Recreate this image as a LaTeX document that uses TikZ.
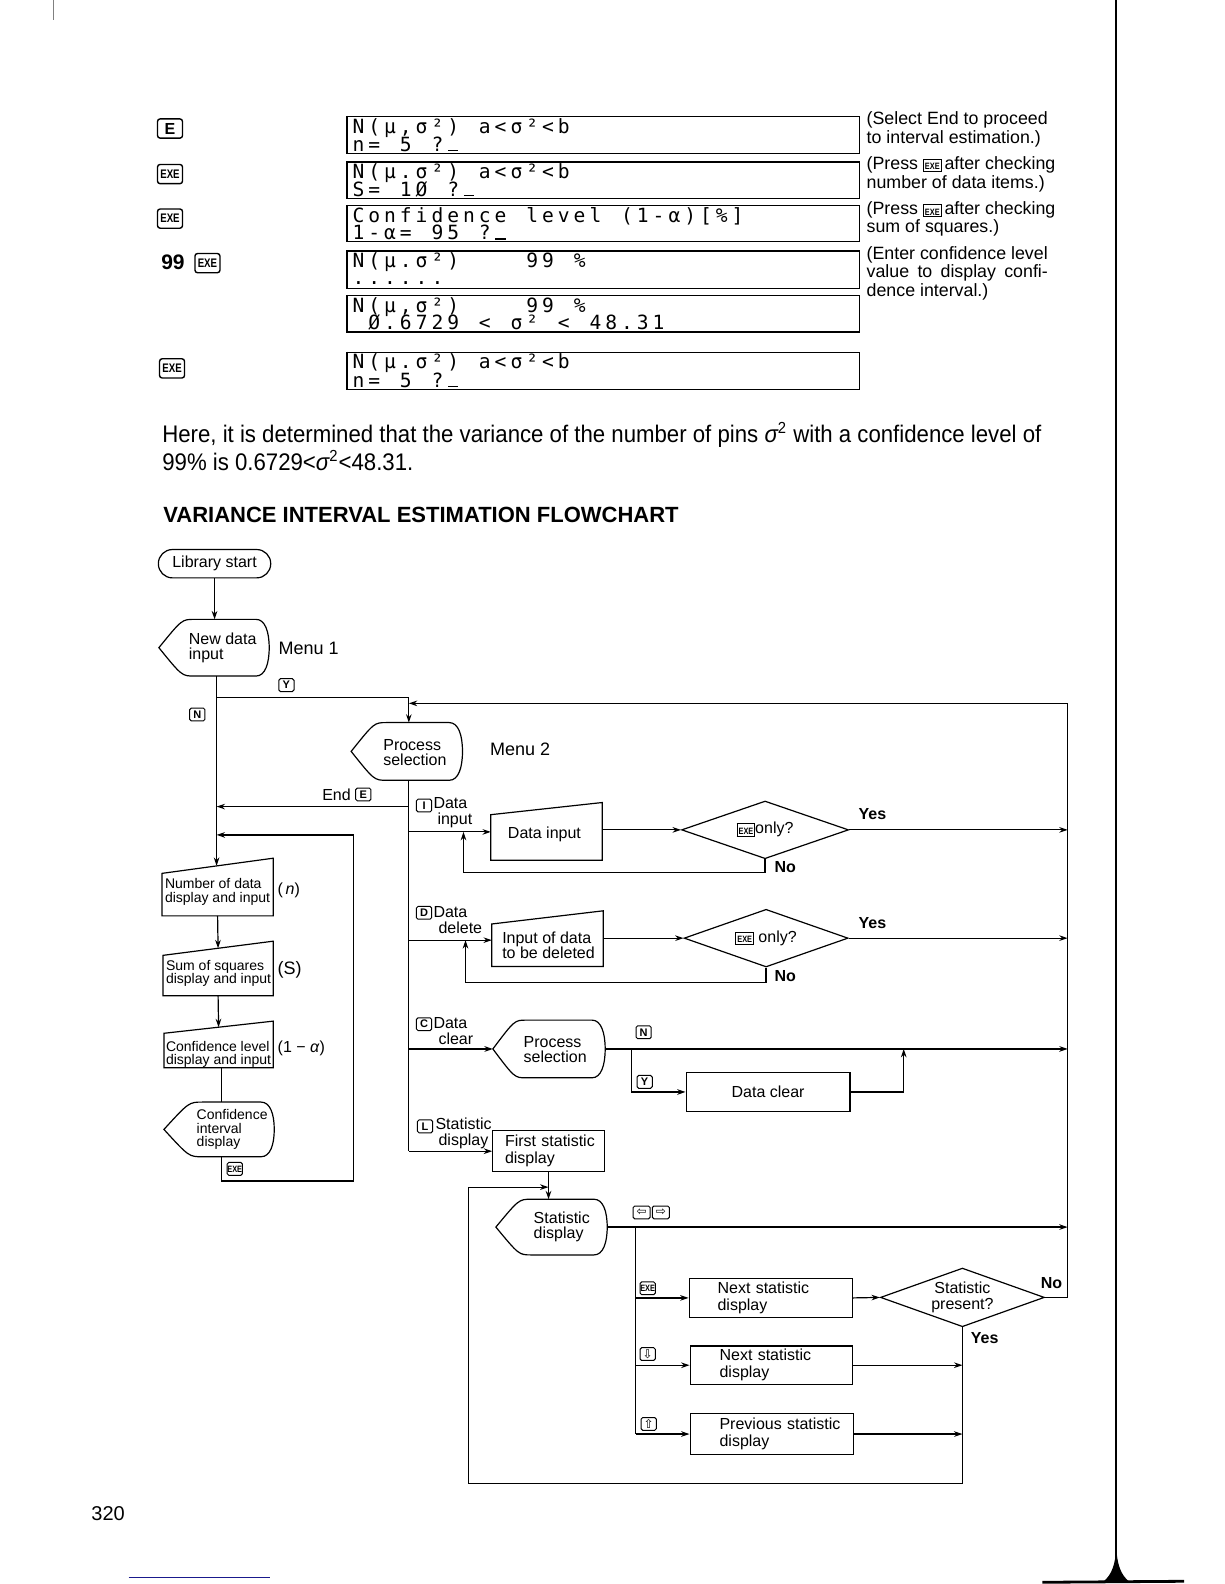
\documentclass[tikz,border=0pt]{standalone}
\usepackage{fontspec}
\usepackage{graphicx}
\setmainfont{Liberation Sans}
\newfontfamily\lcd{DejaVu Sans Mono}
\newfontfamily\dvs{DejaVu Sans}
\newfontfamily\bodyfont{Liberation Sans}[FakeStretch=0.925]
\usetikzlibrary{arrows.meta,shapes.geometric,calc}
\definecolor{scanblue}{RGB}{25,25,140}

\newcommand\exe{{\fontsize{4.6}{4.6}\selectfont\bfseries\scalebox{0.8}[1]{EXE}}}
\newcommand\bigexe{{\fontsize{6.2}{6.2}\selectfont\bfseries\scalebox{0.78}[1]{EXE}}}
\newcommand\arrk[1]{{\dvs\mdseries\fontsize{6}{6}\selectfont #1}}
\newcommand\ikey[1]{\raisebox{-0.3pt}{\setlength\fboxsep{0.5pt}\setlength\fboxrule{0.45pt}\fbox{\rule{0pt}{4.6pt}#1}}}
\newcommand\cur{\rule{5.2pt}{0.7pt}}

% LCD line: every character in a cell of fixed width
\newcommand\lcdend{\lcdend}
\newcommand\lcdline[1]{\lcdloop#1\lcdend}
\def\lcdloop#1{\ifx#1\lcdend\else\makebox[7.9pt][c]{#1}\expandafter\lcdloop\fi}

% display (curved) shape: name, xtip, xeast, ytop, ybot, tiplength
\newcommand\dispshape[6]{%
  \pgfmathsetmacro\dsym{(#4+#5)/2}%
  \pgfmathsetmacro\dsa{#2+0.65*#6}%
  \pgfmathsetmacro\dsb{#2+#6}%
  \pgfmathsetmacro\dsc{#3-13}%
  \pgfmathsetmacro\dsd{#3-4}%
  \pgfmathsetmacro\dse{#4+0.22*(#5-#4)}%
  \pgfmathsetmacro\dsf{#5-0.22*(#5-#4)}%
  \draw[ln] (#2,\dsym) .. controls (\dsa,#4) .. (\dsb,#4) -- (\dsc,#4) .. controls (\dsd,#4) and (#3,\dse) .. (#3,\dsym) .. controls (#3,\dsf) and (\dsd,#5) .. (\dsc,#5) -- (\dsb,#5) .. controls (\dsa,#5) .. (#2,\dsym) -- cycle;
  \coordinate (#1-w) at (#2,\dsym);
  \coordinate (#1-e) at (#3,\dsym);
  \coordinate (#1-n) at (\dsb,#4);
  \coordinate (#1-s) at (\dsb,#5);
}
% manual input shape: name, x0, x1, ytopleft, ytopright, ybot
\newcommand\maninput[6]{%
  \pgfmathsetmacro\miym{(#4+#5)/2}%
  \pgfmathsetmacro\mixm{(#2+#3)/2}%
  \pgfmathsetmacro\miyl{(#4+#6)/2}%
  \pgfmathsetmacro\miyr{(#5+#6)/2}%
  \draw[ln] (#2,#6) -- (#2,#4) -- (#3,#5) -- (#3,#6) -- cycle;
  \coordinate (#1-n) at (\mixm,\miym);
  \coordinate (#1-s) at (\mixm,#6);
  \coordinate (#1-w) at (#2,\miyl);
  \coordinate (#1-e) at (#3,\miyr);
}

\begin{document}
\begin{tikzpicture}[x=0.506pt,y=-0.506pt,
  ln/.style={line width=0.6pt},
  arr/.style={ln,-{Stealth[length=4.2pt,width=2.8pt]}},
  wh/.style 2 args={minimum width=#1*0.506pt,minimum height=#2*0.506pt},
  t8/.style={font=\fontsize{8}{7.6}\selectfont,inner sep=0pt,align=center},
  t8l/.style={t8,align=left},
  t7/.style={font=\fontsize{7}{6.8}\selectfont,inner sep=0pt,align=left},
  lbl/.style={font=\fontsize{8}{8.1}\selectfont,inner sep=0pt,align=left,anchor=west},
  yn/.style={font=\bfseries\fontsize{8}{8}\selectfont,inner sep=0pt},
  fkey/.style={draw,line width=0.5pt,rounded corners=0.8pt,inner sep=0pt,minimum width=7.6pt,minimum height=6.4pt,font=\bfseries\fontsize{5.5}{5.5}\selectfont},
  bkey/.style={draw,line width=0.7pt,rounded corners=1.3pt,inner sep=0pt,minimum width=12.5pt,minimum height=9.6pt,font=\bfseries\fontsize{8}{8}\selectfont},
  lcdbox/.style={draw,ln,wh={506}{37},inner sep=0pt},
  lcdt/.style={font=\lcd\fontsize{9.8}{9.8}\selectfont,inner sep=0pt,anchor=base west},
  note/.style={font=\fontsize{8.9}{9}\selectfont,inner sep=0pt,anchor=base west},
  rbox/.style n args={4}{draw,ln,minimum width=#1,minimum height=#2,inner xsep=#3,inner ysep=0pt,text width=#4,align=left,font=\fontsize{8}{8.4}\selectfont},
  dia/.style={diamond,draw,ln,aspect=2.9,inner sep=0pt,t8}
]
\useasboundingbox (0,0) rectangle (1209.5,1565.2);

% ---------- page marks ----------
\draw[line width=1pt] (1103,0) -- (1103,1552);
\fill (1090,1563) .. controls (1099,1556) and (1102,1545) .. (1103,1530) .. controls (1104,1545) and (1107,1556) .. (1116,1563) -- cycle;
\draw[line width=1.4pt] (1030,1563.5) -- (1170,1562.5);
\draw[line width=0.6pt,scanblue] (127,1559) -- (267,1559);
\draw[line width=0.4pt,gray] (53,0) -- (53,20);

% ---------- key sequence ----------
\node[bkey] (kE) at (168,127) {E};
\node[bkey] (kX1) at (168,172) {\bigexe};
\node[bkey] (kX2) at (168,216) {\bigexe};
\node[font=\bfseries\fontsize{10.5}{10.5}\selectfont,inner sep=0pt,anchor=base west] (n99) at (159,266) {99};
\node[bkey] (kX3) at (205,260) {\bigexe};
\node[bkey] (kX4) at (170,364) {\bigexe};

% ---------- displays ----------
\node[lcdbox] (disp1) at (596,133.5) {};
\node[lcdbox,wh={506}{36}] (disp2) at (596,178) {};
\node[lcdbox,wh={506}{36}] (disp3) at (596,221) {};
\node[lcdbox] (disp4) at (596,266.5) {};
\node[lcdbox,wh={506}{36}] (disp5) at (596,310) {};
\node[lcdbox] (disp6) at (596,366.5) {};
\foreach \d in {disp1,disp2,disp3,disp4,disp5,disp6}
  \draw[line width=1pt] (\d.north west) -- (\d.south west);

\node[lcdt] (l1a) at (346,131.5) {\lcdline{N(μ,σ²)~a<σ²<b}};
\node[lcdt] (l1b) at (346,149.5) {\lcdline{n=~5~?\cur}};
\node[lcdt] (l2a) at (346,176.5) {\lcdline{N(μ.σ²)~a<σ²<b}};
\node[lcdt] (l2b) at (346,194) {\lcdline{S=~1Ø~?\cur}};
\node[lcdt] (l3a) at (346,219.5) {\lcdline{Confidence~level~(1-α)[\%]}};
\node[lcdt] (l3b) at (346,237) {\lcdline{1-α=~95~?\cur}};
\node[lcdt] (l4a) at (346,264.5) {\lcdline{N(μ.σ²)~~~~99~\%}};
\node[lcdt] (l4b) at (346,281.5) {\lcdline{......}};
\node[lcdt] (l5a) at (346,308.5) {\lcdline{N(μ,σ²)~~~~99~\%}};
\node[lcdt] (l5b) at (346,326) {\lcdline{~Ø.6729~<~σ²~<~48.31}};
\node[lcdt] (l6a) at (346,364.5) {\lcdline{N(μ.σ²)~a<σ²<b}};
\node[lcdt] (l6b) at (346,382.5) {\lcdline{n=~5~?\cur}};

% ---------- notes ----------
\node[note] (nt1) at (856,123) {(Select End to proceed};
\node[note] (nt2) at (856,142) {to interval estimation.)};
\node[note] (nt3) at (856,167) {(Press \ikey{\exe}\,after checking};
\node[note] (nt4) at (856,186) {number of data items.)};
\node[note] (nt5) at (856,212) {(Press \ikey{\exe}\,after checking};
\node[note] (nt6) at (856,230) {sum of squares.)};
\node[note] (nt7) at (856,256) {(Enter confidence level};
\node[note] (nt8) at (856,274) {\makebox[90.6pt][s]{value to display confi-}};
\node[note] (nt9) at (856,293) {dence interval.)};

% ---------- body text ----------
\node[anchor=base west,inner sep=0pt,font=\bodyfont\fontsize{12}{12}\selectfont] (body1) at (160,437)
  {Here, it is determined that the variance of the number of pins {\itshape σ}\textsuperscript{2} with a confidence level of};
\node[anchor=base west,inner sep=0pt,font=\bodyfont\fontsize{12}{12}\selectfont] (body2) at (160,465)
  {99\% is 0.6729<{\itshape σ}\textsuperscript{2}<48.31.};
\node[anchor=base west,inner sep=0pt,font=\bfseries\fontsize{11}{11}\selectfont] (head) at (161,516)
  {VARIANCE INTERVAL ESTIMATION FLOWCHART};

% ---------- flowchart shapes ----------
\node[draw,ln,rounded corners=7pt,wh={111}{28},t8] (start) at (212,557) {Library start};

\node[t8l] (ndt) at (220,640) {New data\\input};
\dispshape{nd}{157}{266}{612}{668}{35}
\node[anchor=west,inner sep=0pt,font=\fontsize{9}{9}\selectfont] (menu1) at (275,641) {Menu 1};

\node[t8l] (ps1t) at (410,744) {Process\\selection};
\dispshape{ps1}{347}{457}{714}{771}{35}
\node[anchor=west,inner sep=0pt,font=\fontsize{9}{9}\selectfont] (menu2) at (484,740) {Menu 2};

\node[t7] (numt) at (215,881) {Number of data\\display and input};
\maninput{num}{160}{270}{863}{848}{905}
\node[lbl] (nlab) at (274,880) {(\,\textit{n})};
\node[t7] (sumt) at (216,962) {Sum of squares\\display and input};
\maninput{sum}{161}{270}{944}{930}{984}
\node[lbl,font=\fontsize{9}{9}\selectfont] (slab) at (274,958) {(S)};
\node[t7] (conft) at (216,1042) {Confidence level\\display and input};
\maninput{conf}{162}{270}{1021}{1009}{1055}
\node[lbl] (alab) at (274,1036) {(1 − \textit{α})};
\node[t7,anchor=west] (cidt) at (194,1116) {Confidence\\interval\\display};
\dispshape{cid}{162}{271}{1089}{1143}{38}
\node[fkey] (kX6) at (232,1155) {\exe};

\node[fkey] (kY) at (283,677) {Y};
\node[fkey] (kN) at (195,706) {N};
\node[fkey] (kEnd) at (359,785) {E};
\node[lbl,anchor=east] (endt) at ($(kEnd.west)+(-4,0)$) {End};

\node[fkey] (kI) at (419,796) {I};
\node[lbl] (it) at (428,803) {Data\\\hspace*{2pt}input};
\node[fkey] (kD) at (419,902) {D};
\node[lbl] (dt) at (428,909) {Data\\\hspace*{2.5pt}delete};
\node[fkey] (kC) at (419,1012) {C};
\node[lbl] (ct) at (428,1019) {Data\\\hspace*{2.5pt}clear};
\node[fkey] (kL) at (420,1113) {L};
\node[lbl] (lt) at (430,1120) {Statistic\\\hspace*{1.5pt}display};

\node[t8] (dit) at (538,824) {Data input};
\maninput{di}{485}{595}{805}{793}{850}
\node[dia,wh={165}{57}] (d1) at (756,820) {\ikey{\exe}only?};
\node[yn] (yes1) at (862,804) {Yes};
\node[yn] (no1) at (776,857) {No};

\node[t8l] (ddt) at (542,934) {Input of data\\to be deleted};
\maninput{dd}{486}{596}{913}{900}{955}
\node[dia,wh={162}{57}] (d2) at (757,927) {\ikey{\exe} only?};
\node[yn] (yes2) at (862,912) {Yes};
\node[yn] (no2) at (776,964) {No};

\node[t8l,anchor=west] (ps2t) at (517,1037) {Process\\selection};
\dispshape{ps2}{487}{598}{1008}{1065}{33}
\node[fkey] (kN2) at (636,1020) {N};
\node[fkey] (kY2) at (637,1069) {Y};
\node[draw,ln,wh={162}{38},t8] (dc) at (759,1079) {Data clear};

\node[rbox={55.7pt}{20.7pt}{6.1pt}{43.5pt}] (fs) at (542,1137.5) {\mbox{First statistic}\\display};
\node[t8l,anchor=west] (sdt) at (527,1212) {Statistic\\display};
\dispshape{sd}{490}{600}{1185}{1240}{35}
\node[fkey,minimum width=8.5pt] (kLt) at (634,1198) {\arrk{⇦}};
\node[fkey,minimum width=8.5pt] (kRt) at (653,1198) {\arrk{⇨}};
\node[fkey] (kX5) at (640,1273) {\exe};
\node[rbox={81.5pt}{19.7pt}{14.2pt}{53.1pt}] (ns1) at (761.5,1282.5) {\mbox{Next statistic}\\display};
\node[dia,aspect=2.8,wh={162}{58}] (d3) at (951,1282) {Statistic\\present?};
\node[yn] (no3) at (1039,1268) {No};
\node[yn] (yes3) at (973,1322) {Yes};
\node[fkey] (kDn) at (640,1338) {\arrk{⇩}};
\node[rbox={81pt}{19.2pt}{14.7pt}{51.6pt}] (ns2) at (762,1349) {\mbox{Next statistic}\\display};
\node[fkey] (kUp) at (641,1407) {\arrk{⇧}};
\node[rbox={81.5pt}{20.2pt}{14.7pt}{52.1pt}] (pv) at (762.5,1417) {\mbox{Previous statistic}\\display};

% ---------- connectors ----------
\coordinate (cL) at (214,0);
\coordinate (cP) at (404,0);
\coordinate (cR) at (1055,0);
\draw[arr] (start.south) -- (start.south |- nd-n);
\draw[arr] (nd-s -| cL) -- (num-n -| cL);
\coordinate (yb) at (214,689);
\draw[arr] (yb) -- (yb -| cP) -- (ps1-n -| cP);
\coordinate (eb) at (404,797);
\draw[arr] (eb) -- (eb -| cL);
\coordinate (bI) at (404,822);
\coordinate (bD) at (404,929);
\coordinate (bC) at (404,1036.5);
\coordinate (bL) at (404,1137.5);
\draw[ln] (ps1-s -| cP) -- (bL);
\draw[arr] (bI) -- (bI -| di-w);
\draw[arr] (d1.west -| di-e) -- (d1.west);
\draw[arr] (d1.east) -- (d1.east -| cR);
\coordinate (l1) at (458,862);
\draw[arr] (d1.south) -- (d1.south |- l1) -- (l1) -- (l1 |- bI);
\draw[arr] (bD) -- (bD -| dd-w);
\draw[arr] (d2.west -| dd-e) -- (d2.west);
\draw[arr] (d2.east) -- (d2.east -| cR);
\coordinate (l2) at (460,971);
\draw[arr] (d2.south) -- (d2.south |- l2) -- (l2) -- (l2 |- bD);
\draw[arr] (bC) -- (ps2-w);
\draw[arr] (ps2-e) -- (ps2-e -| cR);
\coordinate (cY) at (624,0);
\draw[arr] (ps2-e -| cY) -- (dc.west -| cY) -- (dc.west);
\coordinate (cU) at (893,0);
\draw[arr] (dc.east) -- (dc.east -| cU) -- (ps2-e -| cU);
\draw[arr] (bL) -- (fs.west);
\draw[arr] (fs.south) -- (fs.south |- sd-n);
\draw[arr] (sd-e) -- (sd-e -| cR);
\coordinate (cS) at (628,0);
\draw[ln] (sd-e -| cS) -- (pv.west -| cS);
\draw[arr] (ns1.west -| cS) -- (ns1.west);
\draw[arr] (ns2.west -| cS) -- (ns2.west);
\draw[arr] (pv.west -| cS) -- (pv.west);
\draw[arr] (ns1.east) -- (d3.west);
\draw[arr] (ns2.east) -- (ns2.east -| d3.south);
\draw[arr] (pv.east) -- (pv.east -| d3.south);
\coordinate (lb) at (463,1466);
\coordinate (ltp) at (463,1173);
\draw[arr] (d3.south) -- (d3.south |- lb) -- (lb) -- (ltp) -- (ltp -| fs.south);
\coordinate (rt) at (1055,695);
\draw[arr] (d3.east) -- (d3.east -| cR) -- (rt) -- (rt -| cP);
\draw[arr] (num-s) -- (sum-n);
\draw[arr] (sum-s) -- (conf-n);
\coordinate (cX) at (219,0);
\draw[ln] (conf-s -| cX) -- (cid-n -| cX);
\coordinate (lp) at (349,1167);
\coordinate (lq) at (349,825);
\draw[arr] (cid-s -| cX) -- (lp -| cX) -- (lp) -- (lq) -- (lq -| cL);

% page number
\node[anchor=base west,inner sep=0pt,font=\fontsize{10}{10}\selectfont] (pg) at (90,1502) {320};
\end{tikzpicture}
\end{document}
